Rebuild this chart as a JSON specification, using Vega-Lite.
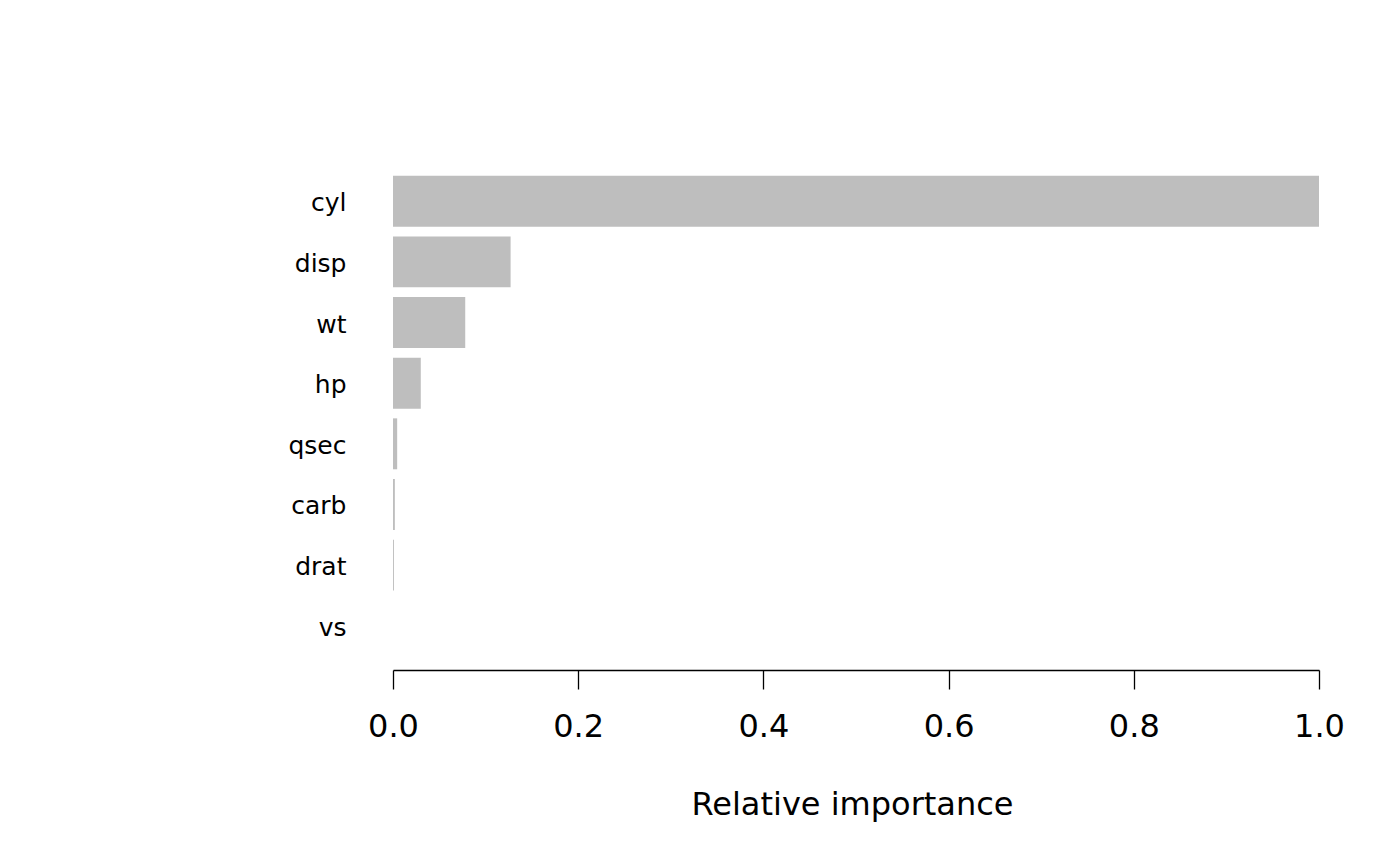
{
  "$schema": "https://vega.github.io/schema/vega-lite/v6.json",
  "autosize": "none",
  "width": 926,
  "height": 513,
  "padding": {"left": 393, "top": 157, "right": 81, "bottom": 196},
  "background": "white",
  "config": {"view": {"stroke": null}, "font": "DejaVu Sans"},
  "data": {"values": [
    {"variable": "cyl", "importance": 1.0},
    {"variable": "disp", "importance": 0.127},
    {"variable": "wt", "importance": 0.078},
    {"variable": "hp", "importance": 0.030},
    {"variable": "qsec", "importance": 0.0045},
    {"variable": "carb", "importance": 0.002},
    {"variable": "drat", "importance": 0.001},
    {"variable": "vs", "importance": 0.0}
  ]},
  "mark": {"type": "bar", "color": "#BEBEBE"},
  "encoding": {
    "y": {
      "field": "variable", "type": "nominal", "sort": null,
      "scale": {"paddingInner": 0.16, "paddingOuter": 0.31},
      "axis": {"title": null, "domain": false, "ticks": false, "grid": false,
               "labelFont": "DejaVu Sans", "labelFontSize": 25, "labelColor": "black",
               "labelPadding": 47, "labelOffset": 2}
    },
    "x": {
      "field": "importance", "type": "quantitative",
      "scale": {"domain": [0, 1], "nice": false, "zero": true},
      "axis": {"title": "Relative importance", "values": [0, 0.2, 0.4, 0.6, 0.8, 1.0],
               "format": ".1f", "grid": false,
               "domainColor": "black", "domainWidth": 1.3, "tickColor": "black", "tickWidth": 1.3,
               "tickSize": 19, "labelFont": "DejaVu Sans", "labelFontSize": 32, "labelColor": "black",
               "labelPadding": 22, "labelFlush": false,
               "titleFont": "DejaVu Sans", "titleFontSize": 32, "titleFontWeight": "normal",
               "titleColor": "black", "titlePadding": 47, "titleX": 459}
    }
  }
}
